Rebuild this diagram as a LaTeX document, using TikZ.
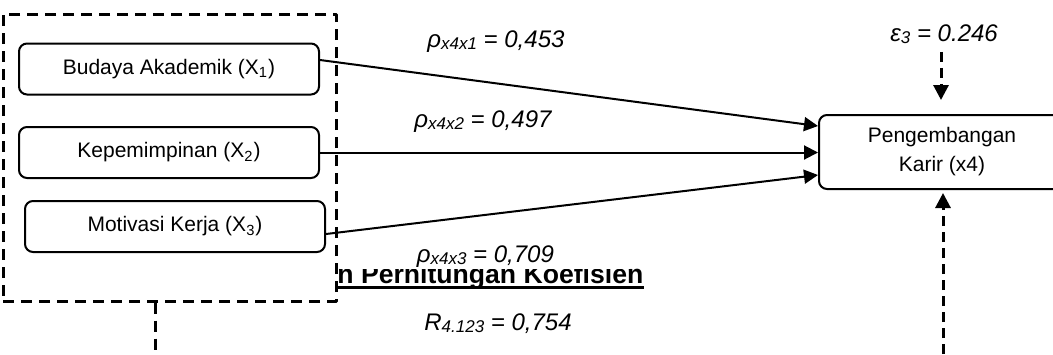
\documentclass[tikz,border=0pt]{standalone}
\usepackage{fontspec}
\setmainfont{Liberation Sans}
\usetikzlibrary{arrows.meta,positioning}
\newcommand{\sbx}[1]{\raisebox{-1.2pt}{\fontsize{8.5}{9}\selectfont #1}}
\tikzset{
  every node/.style={font=\fontsize{10.5}{14.5}\selectfont},
  varbox/.style={draw, rounded corners=4pt, line width=1pt,
    minimum width=150pt, minimum height=25.5pt, inner sep=0pt},
  groupbox/.style={draw, fill=white, line width=1.5pt,
    dash pattern=on 5.5pt off 3.5pt, minimum width=166.5pt,
    minimum height=143.5pt, inner sep=0pt},
  path arrow/.style={line width=1pt, -{Triangle[length=7pt,width=7pt]}},
  error arrow/.style={line width=1.5pt, dash pattern=on 5pt off 3pt,
    -{Triangle[length=7.5pt,width=7.5pt]}},
  coef/.style={font=\fontsize{12}{14}\selectfont\itshape, anchor=base west,
    fill=white, inner sep=1pt},
  heading/.style={font=\fontsize{13.3}{16}\selectfont\bfseries,
    anchor=base west, inner sep=0pt}
}

\begin{document}
\begin{tikzpicture}[x=0.5pt, y=-0.5pt, line cap=butt, line join=round]
  \path[use as bounding box, clip] (0,0) rectangle (1053,354);

  % heading, partly hidden behind the group box and the label
  \node[heading] (head) at (337,283) {n Perhitungan Koefisien};
  \draw[line width=1.5pt] ([yshift=-2.2pt]head.base west)
    -- ([yshift=-2.2pt]head.base east);

  % exogenous variables
  \node[groupbox] (grp) at (169.5,157.5) {};
  \coordinate (grpout) at (155,370);
  \draw[line width=1.5pt, dash pattern=on 5.5pt off 3.5pt]
    (grpout |- grp.south) -- (grpout);

  \node[varbox] (budaya) at (169,69) {Budaya Akademik (X\textsubscript{1})};
  \node[varbox] (pimpin) at (169,152.5) {Kepemimpinan (X\textsubscript{2})};
  \node[varbox] (motiv) at (175,226.5) {Motivasi Kerja (X\textsubscript{3})};

  % endogenous variable
  \node[varbox, minimum width=123pt, minimum height=37pt, align=center]
    (karir) at (942,152) {Pengembangan\\Karir (x4)};

  \draw[path arrow] ([yshift=4.5pt]budaya.east) -- ([yshift=13pt]karir.west);
  \draw[path arrow] (pimpin.east) -- (pimpin.east -| karir.west);
  \draw[path arrow] ([yshift=-3.75pt]motiv.east) -- ([yshift=-11.5pt]karir.west);

  % coefficients
  \node[coef] (p41) at (425,47) {ρ\sbx{x4x1} = 0,453};
  \node[coef] (p42) at (412,127) {ρ\sbx{x4x2} = 0,497};
  \node[coef, minimum width=145pt] (p43) at (340,262) {ρ\sbx{x4x3} = 0,709};
  \node[coef] (r4) at (422,330) {R\sbx{4.123} = 0,754};

  % residuals
  \node[coef] (eps) at (888,41) {ε\sbx{3} = 0.246};
  \coordinate (epstip) at (941,100);
  \draw[error arrow] ([yshift=-3pt]epstip |- eps.south) -- (epstip);
  \coordinate (resid) at (943,370);
  \draw[error arrow] (resid) -- ([yshift=-1.5pt]resid |- karir.south);
\end{tikzpicture}
\end{document}
